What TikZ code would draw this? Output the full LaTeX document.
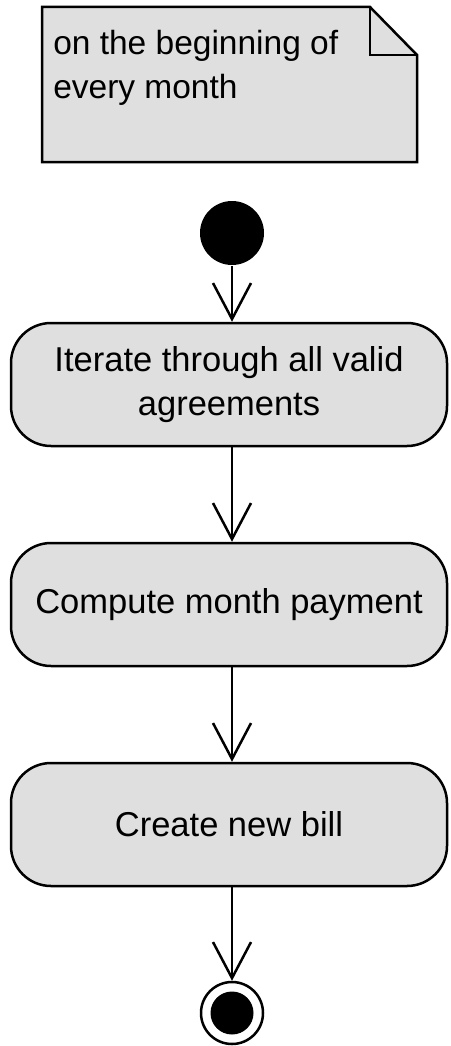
\documentclass[tikz,border=0pt]{standalone}
\usepackage{fontspec}
\setmainfont{Liberation Sans}
\usetikzlibrary{arrows.meta,positioning,calc}
\definecolor{actgray}{RGB}{223,223,223}

\begin{document}
\begin{tikzpicture}[x=1pt,y=-1pt,line width=2.5pt,
  font=\fontsize{34.5pt}{44pt}\selectfont,
  act/.style={draw,fill=actgray,rounded corners=40pt,minimum width=436pt,minimum height=123pt,align=center,inner sep=0pt},
  flow/.style={-{Straight Barb[length=36pt,width=38pt]}}]
\useasboundingbox (0,0) rectangle (450,1046);
% note
\draw[fill=actgray] (42,7) -- (370,7) -- (417,55) -- (417,162) -- (42,162) -- cycle;
\draw (370,7) -- (370,55) -- (417,55);
\node[anchor=north west,align=left,inner sep=0pt,font=\fontsize{33.5pt}{44pt}\selectfont] (note) at (52,29) {on the beginning of\\every month};
% start and end
\node[circle,fill=black,minimum size=64pt,inner sep=0pt] (start) at (232,233) {};
\node[circle,draw,minimum size=62pt,inner sep=0pt] (stop) at (232,1013) {};
\fill[black] (stop) circle (21.5pt);
% activities
\node[act] (iter) at (229,384.5) {Iterate through all valid\\agreements};
\node[act] (comp) at (229,604.5) {Compute month payment};
\node[act] (bill) at (229,824.5) {Create new bill};
% flows
\draw[flow] (start) -- (start |- iter.north);
\draw[flow] (iter.south -| start) -- (comp.north -| start);
\draw[flow] (comp.south -| start) -- (bill.north -| start);
\draw[flow] (bill.south -| start) -- (stop.north);
\end{tikzpicture}
\end{document}
